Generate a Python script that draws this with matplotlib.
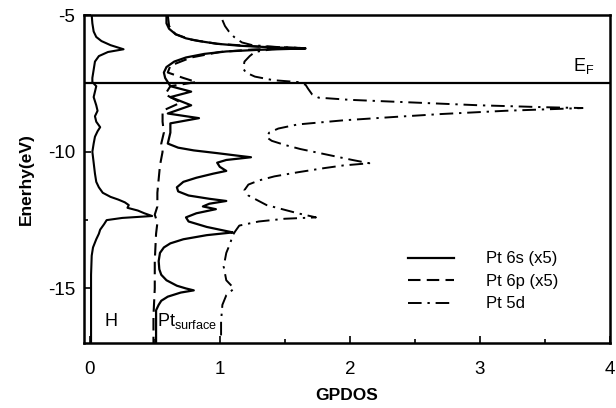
import numpy as np
import matplotlib
matplotlib.use("Agg")
import matplotlib.pyplot as plt
from matplotlib.ticker import MultipleLocator

plt.rcParams['font.family'] = ['Liberation Sans', 'DejaVu Sans']
plt.rcParams['mathtext.fontset'] = 'custom'
plt.rcParams['mathtext.rm'] = 'Liberation Sans'
plt.rcParams['mathtext.it'] = 'Liberation Sans'
plt.rcParams['axes.unicode_minus'] = False

# Fermi level (eV)
e_fermi = -7.48

# H projected DOS (energy, dos)
h_energy = [-5.0, -5.3, -5.6, -5.8, -5.95, -6.1, -6.25, -6.35, -6.5, -6.7, -7.0, -7.3, -7.45,
            -7.6, -7.8, -8.0, -8.3, -8.5, -8.7, -8.9, -9.1, -9.25, -9.45, -9.7, -10.0, -10.4,
            -10.8, -11.1, -11.3, -11.5, -11.65, -11.75, -11.85, -11.95, -12.05, -12.15, -12.25,
            -12.35, -12.42, -12.5, -12.65, -12.85, -13.0, -13.2, -13.5, -13.8, -14.5, -17.0]
h_dos = [0.015, 0.02, 0.03, 0.05, 0.09, 0.16, 0.26, 0.14, 0.07, 0.04, 0.03, 0.02, 0.02,
         0.05, 0.04, 0.03, 0.05, 0.06, 0.04, 0.05, 0.08, 0.06, 0.04, 0.03, 0.02, 0.03,
         0.04, 0.05, 0.07, 0.10, 0.16, 0.22, 0.27, 0.30, 0.29, 0.37, 0.42,
         0.48, 0.25, 0.13, 0.11, 0.08, 0.07, 0.05, 0.025, 0.015, 0.01, 0.01]

# Pt surface 6s (x5), shifted by 0.5
s_energy = [-5.0, -5.3, -5.5, -5.7, -5.85, -5.95, -6.05, -6.12, -6.18, -6.22, -6.27, -6.33,
            -6.42, -6.55, -6.7, -6.9, -7.1, -7.3, -7.45, -7.6, -7.8, -8.0, -8.3, -8.6, -8.77,
            -8.96, -9.3, -9.7, -9.85, -9.95, -10.05, -10.15, -10.2, -10.3, -10.4, -10.55,
            -10.7, -10.8, -10.95, -11.1, -11.3, -11.45, -11.6, -11.72, -11.8, -11.9, -12.0,
            -12.1, -12.25, -12.4, -12.55, -12.75, -12.9, -12.95, -13.05, -13.2, -13.35,
            -13.5, -13.7, -14.0, -14.3, -14.5, -14.7, -14.9, -15.0, -15.07, -15.15, -15.3,
            -15.45, -15.6, -15.8, -17.0]
s_dos = [0.59, 0.59, 0.61, 0.66, 0.74, 0.84, 0.98, 1.15, 1.40, 1.66, 1.30, 1.05,
         0.88, 0.74, 0.65, 0.59, 0.57, 0.58, 0.60, 0.62, 0.78, 0.62, 0.78, 0.60, 0.84,
         0.62, 0.62, 0.60, 0.68, 0.80, 0.98, 1.15, 1.24, 1.05, 0.98, 1.00,
         1.05, 0.95, 0.82, 0.72, 0.67, 0.68, 0.76, 0.92, 1.05, 0.92, 0.87,
         0.97, 0.82, 0.74, 0.76, 0.90, 1.05, 1.10, 0.90, 0.72, 0.62,
         0.57, 0.54, 0.53, 0.535, 0.55, 0.59, 0.67, 0.74, 0.80, 0.70, 0.60,
         0.55, 0.53, 0.51, 0.51]

# Pt surface 6p (x5), shifted by 0.5
p_energy = [-5.0, -5.4, -5.7, -5.9, -6.05, -6.15, -6.2, -6.26, -6.35, -6.55, -6.85, -7.1,
            -7.3, -7.45, -7.6, -7.9, -8.2, -8.5, -8.9, -9.3, -9.7, -10.0, -10.5, -11.0, -11.5,
            -12.0, -12.3, -12.6, -13.0, -14.0, -15.0, -16.0, -17.0]
p_dos = [0.60, 0.61, 0.66, 0.78, 0.98, 1.3, 1.62, 1.25, 1.0, 0.78, 0.62, 0.60,
         0.72, 0.82, 0.62, 0.58, 0.70, 0.56, 0.56, 0.57, 0.55, 0.56, 0.54, 0.53, 0.52,
         0.52, 0.50, 0.52, 0.51, 0.50, 0.50, 0.49, 0.49]

# Pt surface 5d, shifted by 1.0
d_energy = [-5.18, -5.4, -5.6, -5.8, -6.0, -6.1, -6.17, -6.2, -6.25, -6.35, -6.5, -6.7,
            -6.95, -7.1, -7.25, -7.38, -7.45, -7.55, -7.7, -7.9, -8.02, -8.1, -8.2, -8.3,
            -8.37, -8.4, -8.5, -8.62, -8.73, -8.85, -9.0, -9.15, -9.3, -9.47,
            -9.6, -9.75, -9.9, -10.05, -10.2, -10.3, -10.42, -10.5, -10.6, -10.75, -10.9,
            -11.05, -11.2, -11.4, -11.6, -11.8, -11.95, -12.1, -12.25, -12.4, -12.45, -12.55,
            -12.7, -12.9, -13.05, -13.35, -13.7, -14.2, -14.7, -15.0, -15.25, -15.6, -16.2,
            -16.8]
d_dos = [1.02, 1.04, 1.07, 1.11, 1.17, 1.25, 1.45, 1.62, 1.40, 1.27, 1.23, 1.19,
         1.18, 1.20, 1.27, 1.41, 1.60, 1.66, 1.68, 1.71, 1.76, 2.0, 2.5, 3.0,
         3.5, 3.79, 3.2, 2.7, 2.33, 1.95, 1.60, 1.45, 1.38, 1.36,
         1.40, 1.50, 1.62, 1.77, 1.92, 2.02, 2.15, 1.95, 1.80, 1.60, 1.42,
         1.30, 1.22, 1.19, 1.22, 1.30, 1.36, 1.48, 1.60, 1.74, 1.50, 1.30,
         1.15, 1.12, 1.10, 1.08, 1.05, 1.03, 1.05, 1.11, 1.05, 1.02, 1.01,
         1.01]

fig = plt.figure(figsize=(6.16, 4.08), dpi=100)
ax = fig.add_axes([0.136, 0.159, 0.854, 0.804])

ax.plot(h_dos, h_energy, color='black', lw=1.5)
ax.plot(s_dos, s_energy, color='black', lw=1.6, label='Pt 6s (x5)')
ax.plot(p_dos, p_energy, color='black', lw=1.5, dashes=(6, 3), label='Pt 6p (x5)')
ax.plot(d_dos, d_energy, color='black', lw=1.4, dashes=(7, 3, 1.2, 3), label='Pt 5d')
ax.axhline(e_fermi, color='black', lw=1.6)

ax.set_xlim(-0.046, 4.0)
ax.set_ylim(-17, -5)
ax.xaxis.set_major_locator(MultipleLocator(1))
ax.xaxis.set_minor_locator(MultipleLocator(0.5))
ax.yaxis.set_major_locator(MultipleLocator(5))
ax.yaxis.set_minor_locator(MultipleLocator(2.5))
ax.tick_params(which='both', direction='in', top=False, right=False, labelsize=13.5, width=1.2)
ax.tick_params(which='major', length=5, pad=13)
ax.tick_params(which='minor', length=3)
ax.tick_params(axis='y', pad=6)
for sp in ax.spines.values():
    sp.set_linewidth(1.8)

ax.set_xlabel('GPDOS', fontweight='bold', fontsize=12.5, labelpad=7)
ax.set_ylabel('Enerhy(eV)', fontweight='bold', fontsize=12.5, labelpad=10)

ax.text(0.16, -16.2, 'H', fontsize=13, ha='center', va='center')
ax.text(0.52, -16.2, r'Pt$_{\mathrm{surface}}$', fontsize=13, ha='left', va='center')
ax.text(3.72, -6.85, r'E$_{\mathrm{F}}$', fontsize=13, ha='left', va='center')

leg = ax.legend(loc='upper left', bbox_to_anchor=(0.603, 0.30), frameon=False, fontsize=12,
                handlelength=2.8, handletextpad=1.9, labelspacing=0.45, borderaxespad=0)

fig.savefig('out.png', dpi=100)
